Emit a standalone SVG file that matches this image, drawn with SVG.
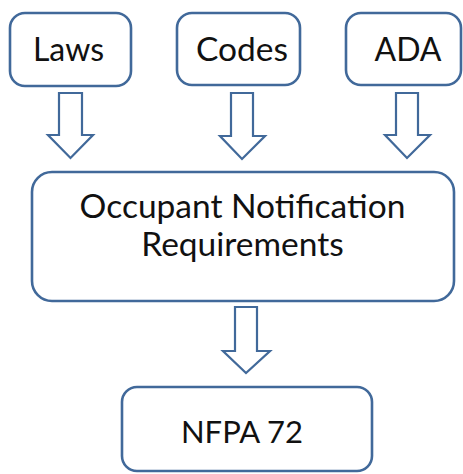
<svg xmlns="http://www.w3.org/2000/svg" width="463" height="474" viewBox="0 0 463 474">
<style>
.box{fill:#ffffff;stroke:#41699a;stroke-width:2.6}
.arr{fill:#ffffff;stroke:#41699a;stroke-width:2.2;stroke-linejoin:miter}
.t{font-family:Lato,"Open Sans","Liberation Sans",sans-serif;fill:#111111;text-anchor:middle}
</style>
<rect width="463" height="474" fill="#ffffff"/>
<g id="connectors">
<polygon class="arr" points="59,93 82,93 82,135 93,135 70.5,158 48,135 59,135"/>
<polygon class="arr" points="231,93 253,93 253,136 265,136 242,159 220,136 231,136"/>
<polygon class="arr" points="396,93 418,93 418,135 430,135 407,158 385,135 396,135"/>
<polygon class="arr" points="235,307 257,307 257,351 270,351 246,373 223,351 235,351"/>
</g>
<g id="laws">
<rect class="box" x="10" y="13" width="121" height="73" rx="15"/>
<text class="t" x="68.5" y="61" font-size="32">Laws</text>
</g>
<g id="codes">
<rect class="box" x="177" y="13" width="123" height="72" rx="15"/>
<text class="t" x="242" y="61" font-size="33.5">Codes</text>
</g>
<g id="ada">
<rect class="box" x="346" y="13" width="115" height="72" rx="15"/>
<text class="t" x="408" y="61" font-size="32">ADA</text>
</g>
<g id="occupant">
<rect class="box" x="32" y="172" width="422" height="129" rx="20"/>
<text class="t" x="242.5" y="218" font-size="33.5">Occupant Notification</text>
<text class="t" x="242.5" y="256" font-size="33.5">Requirements</text>
</g>
<g id="nfpa">
<rect class="box" x="122" y="387" width="250" height="84" rx="15"/>
<text class="t" x="242" y="443" font-size="31">NFPA 72</text>
</g>
</svg>
